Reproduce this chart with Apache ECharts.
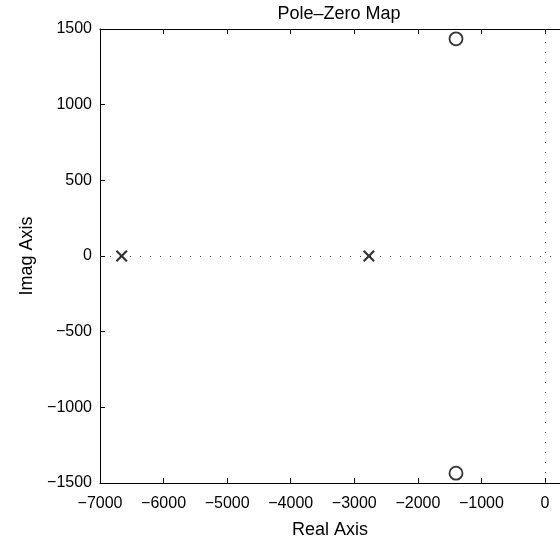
<!DOCTYPE html>
<html>
<head>
<meta charset="utf-8">
<script src="https://cdn.jsdelivr.net/npm/echarts@6/dist/echarts.min.js"></script>
<style>
html, body { margin: 0; padding: 0; background: #fff; }
#main { width: 560px; height: 544px; }
</style>
</head>
<body>
<div id="main"></div>
<script>
// poles (x) and zeros (o)
var poleReal = [-6660, -2770];
var poleImag = [0, 0];
var zeroReal = [-1400, -1400];
var zeroImag = [1435, -1435];
var xTicks = [-7000, -6000, -5000, -4000, -3000, -2000, -1000, 0];
var yTicks = [-1500, -1000, -500, 0, 500, 1000, 1500];

function minus(v){
    return String(v).replace('-', '\u2212');
}

var chartInstance = echarts.init(document.getElementById('main'));
var font = 'Liberation Sans';
var xMax = 236; // the plot runs past the right edge of the picture
var option = {
    backgroundColor: '#fff',
    animation: false,
    title: {
        text: 'Pole\u2013Zero Map',
        left: 334,
        top: 0,
        textAlign: 'center',
        textStyle: { fontFamily: font, fontSize: 18, fontWeight: 'normal', color: '#000' }
    },
    grid: { left: 100, right: 0, top: 29, bottom: 59 },
    xAxis: [
        {
            type: 'value', min: -7000, max: xMax,
            position: 'bottom',
            name: 'Real Axis', nameLocation: 'middle', nameGap: 38,
            nameTextStyle: { fontFamily: font, fontSize: 18, color: '#000' },
            axisLine: { show: true, onZero: false, lineStyle: { color: '#000', width: 1 } },
            axisTick: { show: true, inside: true, length: 5, customValues: xTicks, lineStyle: { color: '#000' } },
            axisLabel: { customValues: xTicks, margin: 13, fontFamily: font, fontSize: 16, color: '#000', formatter: minus },
            splitLine: { show: false }
        },
        {
            type: 'value', min: -7000, max: xMax,
            position: 'top',
            axisLine: { show: true, onZero: false, lineStyle: { color: '#000', width: 1 } },
            axisTick: { show: true, inside: true, length: 5, customValues: xTicks, lineStyle: { color: '#000' } },
            axisLabel: { show: false },
            splitLine: { show: false }
        }
    ],
    yAxis: [
        {
            type: 'value', min: -1500, max: 1500, interval: 500,
            position: 'left',
            name: 'Imag Axis', nameLocation: 'middle', nameGap: 60, nameRotate: 90,
            nameTextStyle: { fontFamily: font, fontSize: 18, color: '#000' },
            axisLine: { show: true, onZero: false, lineStyle: { color: '#000', width: 1 } },
            axisTick: { show: true, inside: true, length: 5, customValues: yTicks, lineStyle: { color: '#000' } },
            axisLabel: { customValues: yTicks, margin: 8, fontFamily: font, fontSize: 16, color: '#000', formatter: minus },
            splitLine: { show: false }
        }
    ],
    series: [
        {
            name: 'poles',
            type: 'scatter',
            data: poleReal.map(function(r, i){ return [r, poleImag[i]]; }),
            symbol: 'path://M0,1.3L1.3,0L5,3.7L8.7,0L10,1.3L6.3,5L10,8.7L8.7,10L5,6.3L1.3,10L0,8.7L3.7,5Z',
            symbolSize: 12,
            itemStyle: { color: '#000' },
            z: 5,
            markLine: {
                silent: true,
                symbol: 'none',
                label: { show: false },
                lineStyle: { color: '#444', width: 1, type: [1, 9] },
                data: [
                    [{ coord: [-7000, 0] }, { coord: [xMax, 0] }],
                    [{ coord: [0, -1500] }, { coord: [0, 1500] }]
                ]
            }
        },
        {
            name: 'zeros',
            type: 'scatter',
            data: zeroReal.map(function(r, i){ return [r, zeroImag[i]]; }),
            symbol: 'circle',
            symbolSize: 13,
            itemStyle: { color: 'rgba(0,0,0,0)', borderColor: '#000', borderWidth: 1.8 },
            z: 5
        }
    ]
};
chartInstance.setOption(option, true);
</script>
</body>
</html>
